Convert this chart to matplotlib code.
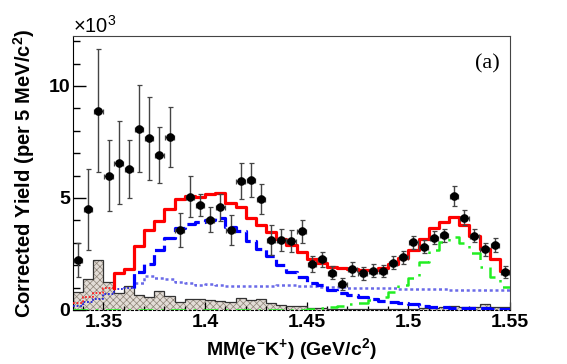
import numpy as np
import matplotlib
matplotlib.use("Agg")
import matplotlib.pyplot as plt
from matplotlib.ticker import MultipleLocator

plt.rcParams['font.family'] = ['Liberation Sans', 'DejaVu Sans']
plt.rcParams['mathtext.fontset'] = 'custom'
plt.rcParams['mathtext.rm'] = 'Liberation Sans'
plt.rcParams['mathtext.bf'] = 'Liberation Sans:bold'
plt.rcParams['hatch.linewidth'] = 0.5

# 5 MeV bins, yields in units of 10^3
x_lo, bin_w, n_bins = 1.335, 0.005, 43

data = [2.23, 4.5, 8.9, 6.0, 6.58, 6.3, 8.1, 7.67, 6.92, 7.71,
        3.57, 5.06, 4.69, 4.03, 4.58, 3.57, 5.76, 5.8, 4.96, 3.12,
        3.12, 3.08, 3.51, 2.05, 2.26, 1.67, 1.16, 1.82, 1.64, 1.76,
        1.74, 2.11, 2.35, 3.02, 2.83, 3.23, 3.33, 5.1, 4.12, 3.32,
        2.71, 2.9, 1.7]
data_err = [0.75, 1.8, 2.75, 1.58, 1.86, 1.28, 1.93, 1.86, 1.26, 1.34,
            0.75, 0.93, 0.5, 0.56, 0.6, 0.65, 0.8, 0.75, 0.66, 0.67,
            0.5, 0.5, 0.5, 0.35, 0.35, 0.3, 0.27, 0.3, 0.28, 0.28,
            0.26, 0.28, 0.28, 0.3, 0.28, 0.3, 0.3, 0.45, 0.33, 0.3,
            0.28, 0.3, 0.25]

total_fit = [0.3, 0.6, 0.76, 0.98, 1.64, 1.82, 2.86, 3.57, 3.99, 4.49,
             4.94, 5.09, 5.03, 5.18, 5.24, 4.79, 4.58, 4.09, 3.79, 3.48,
             3.16, 2.9, 2.6, 2.26, 2.08, 1.93, 1.86, 1.82, 1.78, 1.8,
             1.86, 2.05, 2.3, 2.68, 3.18, 3.65, 3.94, 4.13, 3.78, 3.3,
             2.71, 2.28, 1.76]
sigma_comp = [0.2, 0.35, 0.5, 0.7, 0.94, 0.97, 1.19, 1.52, 1.41, 1.37,
              1.26, 1.22, 1.11, 1.16, 1.11, 1.08, 1.08, 1.07, 1.07, 1.05,
              1.1, 1.12, 1.08, 1.05, 1.04, 1.03, 1.02, 1.0, 1.0, 1.0,
              0.99, 0.98, 0.95, 0.95, 0.94, 0.93, 0.93, 0.9, 0.9, 0.9,
              0.88, 0.88, 0.88]
l1405_comp = [0, 0, 0, 0, 0, 0, 1.68, 2.05, 2.68, 3.2,
              3.68, 3.83, 3.93, 4.02, 4.1, 3.72, 3.52, 3.1, 2.72, 2.4,
              2.02, 1.71, 1.47, 1.22, 1.1, 0.9, 0.76, 0.68, 0.6, 0.47,
              0.38, 0.36, 0.33, 0.25, 0.2, 0.15, 0.12, 0.1, 0.08, 0.07,
              0.07, 0.06, 0.06]
l1520_comp = [0, 0, 0, 0, 0, 0, 0, 0, 0, 0,
              0, 0, 0, 0, 0, 0, 0, 0, 0, 0,
              0, 0, 0, 0.03, 0.08, 0.15, 0.2, 0.27, 0.33, 0.45,
              0.6, 0.82, 1.1, 1.45, 2.15, 2.68, 3.05, 3.28, 3.0, 2.55,
              1.9, 1.48, 1.04]
background = [0.82, 1.37, 2.23, 1.25, 0.74, 1.09, 0.67, 0.6, 0.85, 0.63,
              0.37, 0.5, 0.48, 0.43, 0.4, 0.37, 0.55, 0.43, 0.48, 0.3,
              0.22, 0.19, 0.19, 0.1, 0.08, 0.06, 0.05, 0.05, 0.06, 0.04,
              0.05, 0.04, 0.06, 0.05, 0.08, 0.1, 0.12, 0.18, 0.15, 0.12,
              0.25, 0.15, 0.12]

edges = x_lo + bin_w * np.arange(n_bins + 1)
centers = 0.5 * (edges[:-1] + edges[1:])


def step_xy(vals, i0, i1, lead=None):
    # step outline for bins i0..i1-1, optional vertical lead-in from `lead`
    xs = np.repeat(edges[i0:i1 + 1], 2)[1:-1]
    ys = np.repeat(np.asarray(vals[i0:i1], float), 2)
    if lead is not None:
        xs = np.concatenate([[edges[i0]], xs])
        ys = np.concatenate([[lead], ys])
    return xs, ys


fig = plt.figure(figsize=(5.67, 3.64), dpi=100)
ax = fig.add_axes([0.1287, 0.1484, 0.7708, 0.7526])

# background histogram (hatched)
ax.stairs(background, edges, fill=True, facecolor='#e2dcd6', edgecolor='#8c8276',
          hatch='xxxxx', lw=0, zorder=1)
ax.stairs(background, edges, color='#333333', lw=0.9, zorder=2)

# components
gx, gy = step_xy(l1520_comp, 0, n_bins)
ax.plot(gx, gy, color='#22ee22', lw=1.8, dashes=(6, 3, 1, 3), zorder=3)

sx, sy = step_xy(sigma_comp, 0, 6)
ax.plot(sx, sy, color='#2222dd', lw=1.3, dashes=(1, 1), zorder=3)
sx, sy = step_xy(sigma_comp, 6, n_bins, lead=sigma_comp[5])
ax.plot(sx, sy, color='#6a6ae8', lw=1.8, dashes=(1.2, 1.1), zorder=3)

bx, by = step_xy(l1405_comp, 6, n_bins, lead=sigma_comp[5])
ax.plot(bx, by, color='#0000ff', lw=2.3, dashes=(4.5, 1.6), zorder=4)

rx, ry = step_xy(total_fit, 0, 4)
ax.plot(rx, ry, color='#ff2020', lw=1.3, dashes=(1, 1), zorder=4)
rx, ry = step_xy(total_fit, 4, n_bins, lead=total_fit[3])
ax.plot(rx, ry, color='#ff0000', lw=2.3, zorder=5)

# data points
ax.errorbar(centers, data, yerr=data_err, xerr=0.0021, fmt='o', color='black',
            ecolor='#444444', elinewidth=1, capsize=1.8, capthick=0.9,
            markersize=5.2, zorder=6)

ax.set_xlim(x_lo, edges[-1])
ax.set_ylim(0, 12.23)
ax.xaxis.set_major_locator(MultipleLocator(0.05))
ax.xaxis.set_minor_locator(MultipleLocator(0.01))
ax.yaxis.set_major_locator(MultipleLocator(5))
ax.yaxis.set_minor_locator(MultipleLocator(1))
ax.set_xticks([1.35, 1.4, 1.45, 1.5, 1.55])
ax.set_xticklabels(['1.35', '1.4', '1.45', '1.5', '1.55'])

ax.tick_params(axis='y', which='major', direction='in', length=9.6, width=1,
               pad=2, labelsize=14)
ax.tick_params(axis='y', which='minor', direction='in', length=4.8, width=1)
ax.tick_params(axis='x', which='major', direction='in', length=6, width=0.9,
               pad=3, labelsize=14)
ax.tick_params(axis='x', which='minor', direction='in', length=3, width=0.9)
for lab in ax.get_xticklabels() + ax.get_yticklabels():
    lab.set_fontweight('bold')

ax.spines['bottom'].set_linestyle((0, (2, 2)))
ax.spines['bottom'].set_color('black')
ax.spines['left'].set_color('black')
for s in ('top', 'right'):
    ax.spines[s].set_color('#444444')

ax.set_xlabel(r'MM(e$^{\mathbf{-}}$K$^{\mathbf{+}}$) (GeV/c$^{\mathbf{2}}$)',
              fontsize=14, fontweight='bold', labelpad=4)
ax.set_ylabel(r'Corrected Yield (per 5 MeV/c$^{\mathbf{2}}$)',
              fontsize=14.5, fontweight='bold')
ax.yaxis.set_label_coords(-0.082, 0.5)

ax.text(0.0, 1.011, r'$\times$10$^{3}$', transform=ax.transAxes, fontsize=14.5,
        ha='left', va='baseline')
ax.text(0.977, 0.898, '(a)', transform=ax.transAxes, fontsize=16,
        family='Liberation Serif', ha='right', va='center')

fig.savefig('out.png', dpi=100)
